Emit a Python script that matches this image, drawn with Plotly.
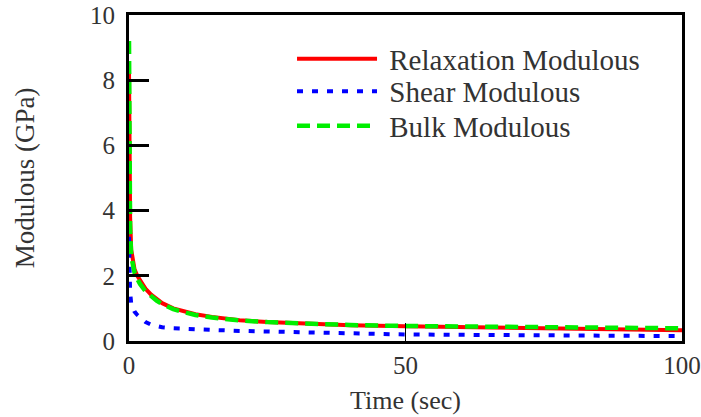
import plotly.graph_objects as go

# Time samples (s) and moduli (GPa)
time_s = [0, 0.1, 0.2, 0.4, 0.7, 1, 1.5, 2, 3, 4, 5, 6, 8, 10, 12, 15, 20, 25, 30, 40, 50, 60, 70, 80, 90, 100]
relaxation = [8.3, 5.5, 3.8, 2.8, 2.4, 2.2, 2.0, 1.85, 1.6, 1.42, 1.28, 1.16, 1.0, 0.9, 0.82, 0.74, 0.64, 0.58, 0.54, 0.48, 0.45, 0.42, 0.40, 0.37, 0.35, 0.33]
shear = [3.2, 2.0, 1.5, 1.15, 1.0, 0.9, 0.8, 0.72, 0.58, 0.5, 0.45, 0.42, 0.39, 0.37, 0.35, 0.34, 0.31, 0.29, 0.27, 0.23, 0.2, 0.19, 0.18, 0.17, 0.16, 0.15]
bulk = [9.2, 5.0, 3.4, 2.6, 2.3, 2.1, 1.9, 1.75, 1.52, 1.36, 1.24, 1.13, 0.98, 0.88, 0.8, 0.72, 0.63, 0.58, 0.54, 0.49, 0.46, 0.44, 0.42, 0.41, 0.40, 0.39]

x_ticks = [0, 50, 100]
y_ticks = [0, 2, 4, 6, 8, 10]

FONT = "serif"
TEXT = "#333333"
GAP = "\u00a0"  # a little extra room between legend sample and label

fig = go.Figure()
fig.add_trace(go.Scatter(x=time_s, y=relaxation, mode="lines", name=GAP + "Relaxation Modulous",
                         legend="legend", line=dict(color="#ff0000", width=4)))
fig.add_trace(go.Scatter(x=time_s, y=shear, mode="lines", name=GAP + "Shear Modulous",
                         legend="legend2", line=dict(color="#0000ff", width=4, dash="6px,9px")))
fig.add_trace(go.Scatter(x=time_s, y=bulk, mode="lines", name=GAP + "Bulk Modulous",
                         legend="legend3", line=dict(color="#00ee00", width=4.5, dash="13px,7px")))

# one single-entry legend per series so the rows can sit tightly stacked
legend_style = dict(x=0.2948, xanchor="left", yanchor="middle",
                    bgcolor="rgba(0,0,0,0)", font=dict(size=29, color=TEXT), itemwidth=80)

fig.update_layout(
    width=701, height=417,
    margin=dict(l=129, r=19, t=15, b=76),
    paper_bgcolor="white", plot_bgcolor="white",
    font=dict(family=FONT, size=25, color=TEXT),
    showlegend=True,
    legend=dict(y=0.865, **legend_style),
    legend2=dict(y=0.766, **legend_style),
    legend3=dict(y=0.660, **legend_style),
)
fig.update_xaxes(
    range=[0, 100], tickvals=x_ticks, ticktext=[str(v) for v in x_ticks],
    showgrid=False, zeroline=False, automargin=False,
    showline=True, linecolor="black", linewidth=3, mirror=True,
    ticks="inside", ticklen=18, tickwidth=1, tickcolor="black",
    ticklabeloverflow="allow",
    title=dict(text="Time (sec)", standoff=13, font=dict(size=26)),
)
fig.update_yaxes(
    range=[0, 10], tickvals=y_ticks, ticktext=[str(v) for v in y_ticks],
    showgrid=False, zeroline=False, automargin=False,
    showline=True, linecolor="black", linewidth=3, mirror=True,
    ticks="inside", ticklen=20, tickwidth=3, tickcolor="black",
    ticklabelstandoff=6,
    title=dict(text="Modulous (GPa)", standoff=48, font=dict(size=27)),
)

fig.write_html("out.html")
